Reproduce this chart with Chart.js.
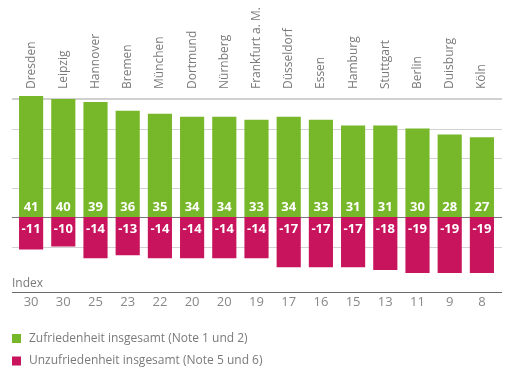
<!DOCTYPE html>
<html><head><meta charset="utf-8">
<script src="https://cdn.jsdelivr.net/npm/chart.js@4"></script>
<style>html,body{margin:0;padding:0;background:#fff;}#wrap{width:525px;height:382px;}</style>
</head><body><div id="wrap"><canvas id="c" width="525" height="382"></canvas></div>
<script>
const cities = ['Dresden','Leipzig','Hannover','Bremen','München','Dortmund','Nürnberg','Frankfurt a. M.','Düsseldorf','Essen','Hamburg','Stuttgart','Berlin','Duisburg','Köln'];
const satisfied = [41,40,39,36,35,34,34,33,34,33,31,31,30,28,27];
const dissatisfied = [-11,-10,-14,-13,-14,-14,-14,-14,-17,-17,-17,-18,-19,-19,-19];
const indexValues = [30,30,25,23,22,20,20,19,17,16,15,13,11,9,8];
const gridValues = [30,20,10,-10];
const legendLabels = ['Zufriedenheit insgesamt (Note 1 und 2)','Unzufriedenheit insgesamt (Note 5 und 6)'];
const GREEN = '#77b82a', MAGENTA = '#c8145c', TEXT = '#7a7a7a';
const FONT = '"Open Sans", sans-serif';

const decor = {
  id: 'decor',
  beforeDatasetsDraw(chart) {
    const ctx = chart.ctx, y = chart.scales.y;
    const L = 12, R = 502;
    ctx.save();
    ctx.strokeStyle = '#d2d2d2'; ctx.lineWidth = 1;
    gridValues.forEach(v => {
      const py = Math.round(y.getPixelForValue(v)) + 0.5;
      ctx.beginPath(); ctx.moveTo(L, py); ctx.lineTo(R, py); ctx.stroke();
    });
    ctx.lineWidth = 2; ctx.strokeStyle = '#d0d0d0';
    let py = Math.round(y.getPixelForValue(40));
    ctx.beginPath(); ctx.moveTo(L, py); ctx.lineTo(R, py); ctx.stroke();
    ctx.lineWidth = 1; ctx.strokeStyle = '#7a7a7a';
    py = Math.round(y.getPixelForValue(0)) + 0.5;
    ctx.beginPath(); ctx.moveTo(L, py); ctx.lineTo(R, py); ctx.stroke();
    ctx.restore();
  },
  afterDatasetsDraw(chart) {
    const ctx = chart.ctx, x = chart.scales.x, y = chart.scales.y;
    const L = 12, R = 502;
    const y0 = y.getPixelForValue(0);
    ctx.save();
    // city names
    ctx.font = '12px ' + FONT; ctx.fillStyle = TEXT;
    ctx.textAlign = 'left'; ctx.textBaseline = 'middle';
    cities.forEach((c, i) => {
      const px = x.getPixelForValue(i);
      ctx.save(); ctx.translate(px, 89); ctx.rotate(-Math.PI / 2);
      ctx.fillText(c, 0, 0); ctx.restore();
    });
    // value labels
    ctx.font = 'bold 13px ' + FONT; ctx.fillStyle = '#fff'; ctx.textAlign = 'center';
    satisfied.forEach((v, i) => ctx.fillText(String(v), x.getPixelForValue(i), y0 - 10));
    dissatisfied.forEach((v, i) => ctx.fillText(String(v), x.getPixelForValue(i), y0 + 12));
    // index
    ctx.font = '12px ' + FONT; ctx.fillStyle = TEXT; ctx.textAlign = 'left';
    ctx.fillText('Index', 12, 284);
    ctx.strokeStyle = '#6a6a6a'; ctx.lineWidth = 1.2;
    ctx.beginPath(); ctx.moveTo(L, 292.5); ctx.lineTo(R, 292.5); ctx.stroke();
    ctx.font = '13px ' + FONT; ctx.fillStyle = '#888'; ctx.textAlign = 'center';
    indexValues.forEach((v, i) => ctx.fillText(String(v), x.getPixelForValue(i), 302));
    // legend
    const cols = [GREEN, MAGENTA], ly = [338.5, 361];
    ctx.font = '12px ' + FONT; ctx.textAlign = 'left';
    legendLabels.forEach((t, k) => {
      ctx.fillStyle = cols[k]; ctx.fillRect(12, ly[k] - 4.5, 9, 9);
      ctx.fillStyle = TEXT; ctx.fillText(t, 29, ly[k]);
    });
    ctx.restore();
  }
};

new Chart(document.getElementById('c'), {
  type: 'bar',
  data: {
    labels: cities,
    datasets: [
      { label: legendLabels[0], data: satisfied, backgroundColor: GREEN, barPercentage: 0.75, categoryPercentage: 1 },
      { label: legendLabels[1], data: dissatisfied, backgroundColor: MAGENTA, barPercentage: 0.75, categoryPercentage: 1 }
    ]
  },
  options: {
    responsive: false, animation: false,
    layout: { padding: { left: 15, right: 27, top: 84.25, bottom: 91.25 } },
    plugins: { legend: { display: false }, tooltip: { enabled: false } },
    scales: {
      x: { display: false, stacked: true },
      y: { display: false, stacked: true, min: -25, max: 45 }
    }
  },
  plugins: [decor]
});
</script></body></html>
